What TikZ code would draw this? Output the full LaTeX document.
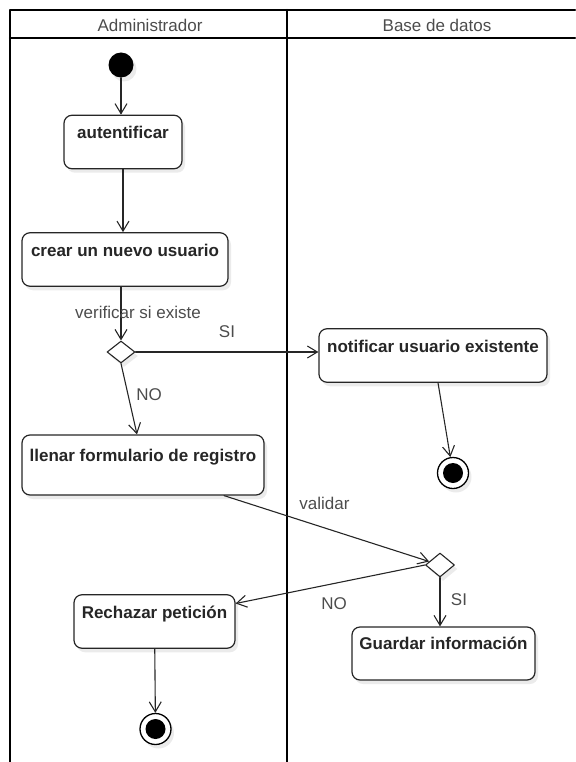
\documentclass[tikz,border=0pt]{standalone}
\usepackage{fontspec}
\setmainfont{Liberation Sans}
\usepackage{xcolor}
\usetikzlibrary{arrows.meta,shapes.geometric,shadows}
\tikzset{
  carril/.style={line width=2.4pt,black},
  titulo/.style={font=\fontsize{17}{20}\selectfont,text=black!70},
  sombra/.style={drop shadow={shadow xshift=3pt,shadow yshift=-4pt,fill=black,opacity=0.08}},
  actividad/.style={draw=black!85,line width=1.2pt,rounded corners=8pt,fill=white,sombra,
    font=\fontsize{17}{20}\selectfont\bfseries,text=black!85,
    inner xsep=0pt,inner ysep=0pt,text height=23.5pt,text depth=30pt},
  decision/.style={diamond,draw=black!85,line width=1.1pt,fill=white,inner sep=0pt,sombra},
  inicio/.style={circle,fill=black,inner sep=0pt,minimum size=25pt,sombra},
  fin/.style={circle,draw=black,line width=1.3pt,fill=white,inner sep=0pt,minimum size=31pt,sombra,
    path picture={\fill [black] (path picture bounding box.center) circle (10pt);}},
  flujo/.style={draw=black!85,line width=1.1pt,->},
  etiqueta/.style={font=\fontsize{17}{20}\selectfont,text=black!70}
}
\begin{document}
\begin{tikzpicture}[line cap=round,line join=round,>={Straight Barb[length=10pt,width=12pt]},x=1pt,y=-1pt]
                \useasboundingbox (0,0) rectangle (575,762);
                \draw [carril] (575,10) -- (10,10) -- (10,762);
                \draw [carril] (10,38) -- (575,38);
                \draw [carril] (287,10) -- (287,762);
                \node [titulo] (admin) at (150,25) {Administrador};
                \node [titulo] (bd) at (437,25) {Base de datos};
                \node [inicio] (ini) at (121,65) {};
                \node [actividad,minimum width=118pt] (aut) at (123,142) {autentificar};
                \node [actividad,minimum width=206pt] (crear) at (125,259.5) {crear un nuevo usuario};
                \node [decision,minimum width=28pt,minimum height=22pt] (d1) at (121,352) {};
                \node [actividad,minimum width=228pt] (notif) at (433,355.5) {notificar usuario existente};
                \node [fin] (fin1) at (453,473) {};
                \node [actividad,minimum width=242pt,text height=26.5pt,text depth=33.5pt] (llenar) at (143,465) {llenar formulario de registro};
                \node [decision,minimum width=29pt,minimum height=24pt] (d2) at (440,565) {};
                \node [actividad,minimum width=161pt] (rech) at (154.5,621.5) {Rechazar petición};
                \node [actividad,minimum width=183pt,text height=22.5pt,text depth=30.5pt] (guard) at (443.5,653.5) {Guardar información};
                \node [fin] (fin2) at (155.5,729) {};
                \draw [flujo] (ini) -- (ini |- aut.north);
                \draw [flujo] (aut.south) -- (aut.south |- crear.north);
                \draw [flujo] (crear.south -| d1.north) -- (d1.north) node [etiqueta,pos=0.47,xshift=17pt] {verificar si existe};
                \draw [flujo] (d1.east) -- (d1.east -| notif.west) node [etiqueta,pos=0.5,yshift=20pt] {SI};
                \draw [flujo] ([xshift=5pt]notif.south) -- (fin1);
                \draw [flujo] (d1.south) -- ([xshift=-6pt]llenar.north) node [etiqueta,pos=0.44,xshift=21pt] {NO};
                \draw [flujo] ([xshift=81pt]llenar.south) -- (d2) node [etiqueta,pos=0.49,yshift=24pt] {validar};
                \draw [flujo] (d2.west) -- ([yshift=18pt]rech.east) node [etiqueta,pos=0.48,yshift=-20pt] {NO};
                \draw [flujo] (d2.south) -- (d2.south |- guard.north) node [etiqueta,pos=0.46,xshift=19pt] {SI};
                \draw [flujo] (rech) -- (fin2);
            \end{tikzpicture}
\end{document}
